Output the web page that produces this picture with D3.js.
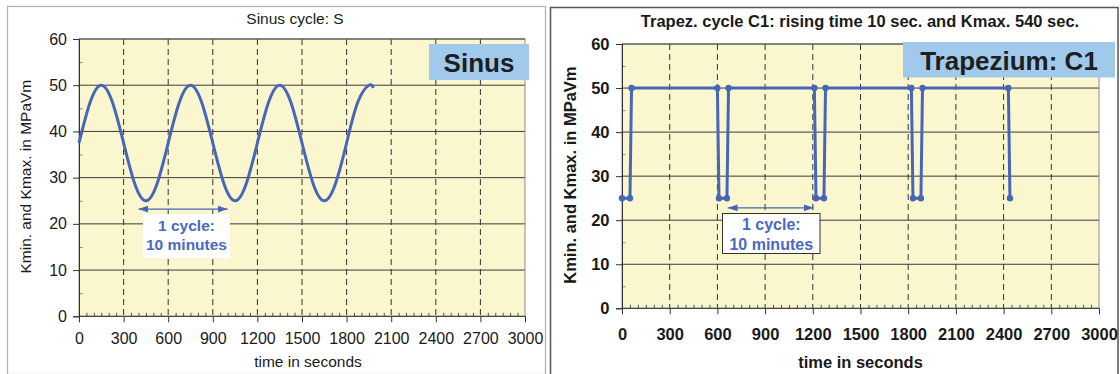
<!DOCTYPE html>
<html>
<head>
<meta charset="utf-8">
<script src="https://cdn.jsdelivr.net/npm/d3@7"></script>
<style>
  html, body { margin: 0; padding: 0; background: #ffffff; }
  svg { display: block; font-family: "Liberation Sans", Arial, sans-serif; }
</style>
</head>
<body>
<svg id="chart" width="1120" height="374"></svg>
<script>
// ---------- data ----------
const xTicks = [0, 300, 600, 900, 1200, 1500, 1800, 2100, 2400, 2700, 3000];
const xGridTicks = [300, 600, 900, 1200, 1500, 1800, 2100, 2400, 2700];
const yTicks = [0, 10, 20, 30, 40, 50, 60];
const yGridTicks = [10, 20, 30, 40, 50];

// Sinus cycle S
const sinusTime = [0, 75, 150, 225, 300, 375, 450, 525, 600, 675, 750, 825, 900, 975,
  1050, 1125, 1200, 1275, 1350, 1425, 1500, 1575, 1650, 1725, 1800, 1875, 1950, 1980];
const sinusK = [37.5, 46.3, 50, 46.3, 37.5, 28.7, 25, 28.7, 37.5, 46.3, 50, 46.3, 37.5, 28.7,
  25, 28.7, 37.5, 46.3, 50, 46.3, 37.5, 28.7, 25, 28.7, 37.5, 46.3, 50, 49.4];

// Trapezium cycle C1
const trapTime = [0, 50, 60, 600, 610, 660, 670, 1210, 1220, 1270, 1280, 1820, 1830, 1880, 1890, 2430, 2440];
const trapK = [25, 25, 50, 50, 25, 25, 50, 50, 25, 25, 50, 50, 25, 25, 50, 50, 25];

// cycle annotation (arrow start/end in seconds, level in MPaVm)
const sinusArrow = [400, 1000, 23.2];
const trapArrow = [665, 1205, 22.8];

const titles = ["Sinus cycle: S", "Trapez. cycle C1: rising time 10 sec. and Kmax. 540 sec."];
const badges = ["Sinus", "Trapezium: C1"];
const yTitle = "Kmin. and Kmax. in MPaVm";
const xTitle = "time in seconds";
const cycleText = ["1 cycle:", "10 minutes"];

// ---------- drawing ----------
const svg = d3.select("#chart");
const lineBlue = "#4766b9";
const textBlue = "#4a6abf";
const bg = "#faf7cf";

const defs = svg.append("defs");
defs.append("marker").attr("id", "arr")
  .attr("viewBox", "0 0 10 10").attr("refX", 10).attr("refY", 5)
  .attr("markerWidth", 7).attr("markerHeight", 7).attr("orient", "auto-start-reverse")
  .append("path").attr("d", "M0,1.5 L10,5 L0,8.5 Z").attr("fill", lineBlue);

// panel frames
svg.append("rect").attr("x", 7.5).attr("y", 6.5).attr("width", 538).attr("height", 368)
  .attr("fill", "#fff").attr("stroke", "#b0b0b0").attr("stroke-width", 1.2);
svg.append("rect").attr("x", 550.5).attr("y", 7.5).attr("width", 567.5).attr("height", 368)
  .attr("fill", "#fff").attr("stroke", "#555").attr("stroke-width", 1.5);

function drawPanel(cfg) {
  const x = d3.scaleLinear().domain([0, 3000]).range([cfg.x0, cfg.x1]);
  const y = d3.scaleLinear().domain([0, 60]).range([cfg.yBot, cfg.yTop]);
  const g = svg.append("g");
  const weight = cfg.bold ? "bold" : "normal";

  g.append("rect").attr("x", cfg.x0).attr("y", cfg.yTop)
    .attr("width", cfg.x1 - cfg.x0).attr("height", cfg.yBot - cfg.yTop)
    .attr("fill", bg);

  // dashed vertical grid
  g.selectAll(".vg").data(xGridTicks).join("line")
    .attr("x1", d => x(d)).attr("x2", d => x(d))
    .attr("y1", cfg.yTop).attr("y2", cfg.yBot)
    .attr("stroke", "#333").attr("stroke-width", 1).attr("stroke-dasharray", "6,4");
  // solid horizontal grid
  g.selectAll(".hg").data(yGridTicks).join("line")
    .attr("x1", cfg.x0).attr("x2", cfg.x1)
    .attr("y1", d => y(d)).attr("y2", d => y(d))
    .attr("stroke", "#3a3a3a").attr("stroke-width", 1);

  // plot border
  g.append("rect").attr("x", cfg.x0).attr("y", cfg.yTop)
    .attr("width", cfg.x1 - cfg.x0).attr("height", cfg.yBot - cfg.yTop)
    .attr("fill", "none").attr("stroke", "#8a8a8a").attr("stroke-width", 1);
  g.append("line").attr("x1", cfg.x0).attr("x2", cfg.x1).attr("y1", cfg.yTop).attr("y2", cfg.yTop)
    .attr("stroke", "#444");

  // minor ticks
  const minorX = d3.range(0, 3001, 50).filter(v => v % 300 !== 0);
  const minorY = d3.range(5, 60, 10);
  g.append("g").attr("transform", `translate(0,${cfg.yBot})`)
    .call(d3.axisBottom(x).tickValues(minorX).tickSize(-3.5).tickFormat(""))
    .call(a => a.select(".domain").remove())
    .selectAll("line").attr("stroke", "#555");
  g.append("g").attr("transform", `translate(${cfg.x0},0)`)
    .call(d3.axisLeft(y).tickValues(minorY).tickSize(-3.5).tickFormat(""))
    .call(a => a.select(".domain").remove())
    .selectAll("line").attr("stroke", "#888");

  // major axes
  const xa = g.append("g").attr("transform", `translate(0,${cfg.yBot})`)
    .call(d3.axisBottom(x).tickValues(xTicks).tickSize(6).tickPadding(cfg.xPad).tickFormat(d3.format("d")));
  xa.select(".domain").attr("stroke", "#333").attr("d", `M${cfg.x0},0H${cfg.x1}`);
  xa.selectAll("line").attr("stroke", "#333");
  xa.selectAll("text").attr("font-size", cfg.tickFont).attr("font-weight", weight)
    .attr("fill", "#1a1a1a").attr("font-family", "Liberation Sans, Arial, sans-serif");

  const ya = g.append("g").attr("transform", `translate(${cfg.x0},0)`)
    .call(d3.axisLeft(y).tickValues(yTicks).tickSize(6).tickPadding(cfg.yPad));
  ya.select(".domain").attr("stroke", "#333");
  ya.selectAll("line").attr("stroke", "#333");
  ya.selectAll("text").attr("font-size", cfg.tickFont).attr("font-weight", weight)
    .attr("fill", "#1a1a1a").attr("font-family", "Liberation Sans, Arial, sans-serif");

  // titles
  g.append("text").attr("x", cfg.titleX).attr("y", cfg.titleY).attr("text-anchor", "middle")
    .attr("font-size", cfg.titleFont).attr("font-weight", weight).attr("fill", "#1a1a1a")
    .text(cfg.title);
  g.append("text").attr("transform", `translate(${cfg.yTitleX},${(cfg.yTop + cfg.yBot) / 2 - 1}) rotate(-90)`)
    .attr("text-anchor", "middle").attr("font-size", cfg.axisFont).attr("font-weight", weight)
    .attr("fill", "#1a1a1a").text(yTitle);
  g.append("text").attr("x", cfg.xTitleX).attr("y", cfg.xTitleY).attr("text-anchor", "middle")
    .attr("font-size", cfg.axisFont).attr("font-weight", weight).attr("fill", "#1a1a1a")
    .text(xTitle);

  // data line
  const line = d3.line().x(d => x(d[0])).y(d => y(d[1])).curve(cfg.curve);
  const pts = cfg.time.map((t, i) => [t, cfg.values[i]]);
  g.append("path").datum(pts).attr("d", line).attr("fill", "none")
    .attr("stroke", lineBlue).attr("stroke-width", 3).attr("stroke-linejoin", "round");
  if (cfg.markers) {
    g.selectAll(".pt").data(pts).join("circle")
      .attr("cx", d => x(d[0])).attr("cy", d => y(d[1])).attr("r", 3.2)
      .attr("fill", lineBlue);
  }

  // cycle arrow
  g.append("line").attr("x1", x(cfg.arrow[0])).attr("x2", x(cfg.arrow[1]))
    .attr("y1", y(cfg.arrow[2])).attr("y2", y(cfg.arrow[2]))
    .attr("stroke", lineBlue).attr("stroke-width", 1.4)
    .attr("marker-start", "url(#arr)").attr("marker-end", "url(#arr)");

  // cycle textbox
  const b = cfg.box;
  g.append("rect").attr("x", b[0]).attr("y", b[1]).attr("width", b[2]).attr("height", b[3])
    .attr("fill", "#fff").attr("stroke", cfg.boxStroke).attr("stroke-width", 1);
  cycleText.forEach((t, i) => {
    g.append("text").attr("x", b[0] + b[2] / 2).attr("y", b[1] + cfg.boxLines[i])
      .attr("text-anchor", "middle").attr("font-size", cfg.boxFont).attr("font-weight", "bold")
      .attr("fill", textBlue).text(t);
  });

  // badge
  const bd = cfg.badge;
  g.append("rect").attr("x", bd[0]).attr("y", bd[1]).attr("width", bd[2]).attr("height", bd[3])
    .attr("fill", "#a0c9ec");
  g.append("text").attr("x", bd[0] + bd[2] / 2).attr("y", bd[1] + cfg.badgeBase)
    .attr("text-anchor", "middle").attr("font-size", 26).attr("font-weight", "bold")
    .attr("fill", "#1e1e1e").text(cfg.badgeText);
}

drawPanel({
  x0: 79, x1: 525, yTop: 39, yBot: 316.3, bold: false,
  tickFont: 16, xPad: 10, yPad: 6,
  title: titles[0], titleX: 295, titleY: 23.5, titleFont: 15.5,
  yTitleX: 31, axisFont: 15.5, xTitleX: 308, xTitleY: 367,
  time: sinusTime, values: sinusK, curve: d3.curveNatural, markers: false,
  arrow: sinusArrow, box: [143, 214, 87, 44], boxStroke: "none", boxLines: [17, 35.5], boxFont: 15.5,
  badge: [429, 44, 100, 36], badgeText: badges[0], badgeBase: 28
});

drawPanel({
  x0: 622, x1: 1099, yTop: 44, yBot: 308.3, bold: true,
  tickFont: 16.5, xPad: 14, yPad: 6.5,
  title: titles[1], titleX: 860, titleY: 27, titleFont: 16.5,
  yTitleX: 576, axisFont: 16.5, xTitleX: 860.5, xTitleY: 367.5,
  time: trapTime, values: trapK, curve: d3.curveLinear, markers: true,
  arrow: trapArrow, box: [722.5, 213.5, 97.5, 40], boxStroke: "#333", boxLines: [16.5, 36.5], boxFont: 16,
  badge: [903, 42, 212, 35.5], badgeText: badges[1], badgeBase: 28
});
</script>
</body>
</html>
